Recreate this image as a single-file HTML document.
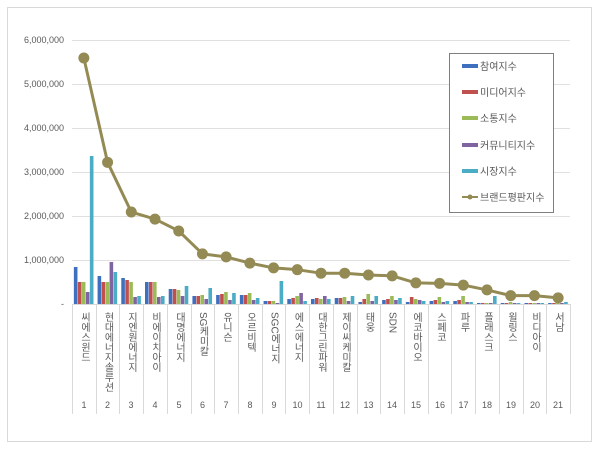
<!DOCTYPE html>
<html><head><meta charset="utf-8"><style>
html,body{margin:0;padding:0;background:#fff;}
svg{display:block;font-family:"Liberation Sans","Noto Sans CJK KR",sans-serif;}
.yl{font-size:9px;fill:#595959;text-anchor:end}
.cl{font-size:10px;fill:#595959;writing-mode:tb;glyph-orientation-vertical:0}
.nl{font-size:9px;fill:#595959;text-anchor:middle}
.lg{font-size:10px;fill:#595959}
</style></head><body>
<svg id="s" width="600" height="449" viewBox="0 0 600 449" xmlns="http://www.w3.org/2000/svg">
<rect x="0" y="0" width="600" height="449" fill="#fff"/>
<rect x="7.5" y="7.5" width="584" height="434" fill="#fff" stroke="#d9d9d9"/>
<g stroke="#e0e0e0" stroke-width="1">
<line x1="72" x2="570" y1="40.5" y2="40.5"/><line x1="72" x2="570" y1="84.5" y2="84.5"/>
<line x1="72" x2="570" y1="128.5" y2="128.5"/><line x1="72" x2="570" y1="172.5" y2="172.5"/>
<line x1="72" x2="570" y1="216.5" y2="216.5"/><line x1="72" x2="570" y1="260.5" y2="260.5"/>
</g>
<g class="yl">
<text x="64" y="43">6,000,000</text><text x="64" y="87">5,000,000</text>
<text x="64" y="131">4,000,000</text><text x="64" y="175">3,000,000</text>
<text x="64" y="219">2,000,000</text><text x="64" y="263">1,000,000</text>
<text x="64" y="307">-</text>
</g>
<g id="bars"></g>
<g id="seps" stroke="#d9d9d9"></g>
<line x1="72" x2="570" y1="304.5" y2="304.5" stroke="#d9d9d9"/>
<polyline id="ln" fill="none" stroke="#948a54" stroke-width="3" stroke-linejoin="round"/>
<g id="mk" fill="#948a54"></g>
<rect x="449.5" y="53.5" width="104" height="159" fill="#fff" stroke="#7f7f7f"/>
<rect x="462" y="64" width="16" height="4" fill="#3f6fbf"/><text class="lg" x="480" y="70">참여지수</text>
<rect x="462" y="90" width="16" height="4" fill="#c0504d"/><text class="lg" x="480" y="96">미디어지수</text>
<rect x="462" y="116" width="16" height="4" fill="#9bbb59"/><text class="lg" x="480" y="122">소통지수</text>
<rect x="462" y="143" width="16" height="4" fill="#8064a2"/><text class="lg" x="480" y="149">커뮤니티지수</text>
<rect x="462" y="169" width="16" height="4" fill="#4bacc6"/><text class="lg" x="480" y="175">시장지수</text>
<line x1="462" x2="478" y1="197" y2="197" stroke="#948a54" stroke-width="2"/><circle cx="470" cy="197" r="2.5" fill="#948a54"/><text class="lg" x="480" y="201">브랜드평판지수</text>
<g class="cl">
<text x="84" y="312">씨에스윈드</text>
<text x="107.5" y="312">현대에너지솔루션</text>
<text x="131" y="312">지엔원에너지</text>
<text x="155" y="312">비에이치아이</text>
<text x="179" y="312">대명에너지</text>
<text x="202.5" y="312">SG케미칼</text>
<text x="226" y="312">유니슨</text>
<text x="250" y="312">오르비텍</text>
<text x="274" y="312">SGC에너지</text>
<text x="297.5" y="312">에스에너지</text>
<text x="321" y="312">대한그린파워</text>
<text x="345" y="312">제이씨케미칼</text>
<text x="368.5" y="312">태웅</text>
<text x="392" y="312">SDN</text>
<text x="416" y="312">에코바이오</text>
<text x="440" y="312">스페코</text>
<text x="463.5" y="312">파루</text>
<text x="487" y="312">플래스크</text>
<text x="511" y="312">윌링스</text>
<text x="535" y="312">비디아이</text>
<text x="558" y="312">서남</text>
</g>
<g class="nl">
<text x="84" y="408">1</text><text x="107.5" y="408">2</text><text x="131" y="408">3</text><text x="155" y="408">4</text><text x="179" y="408">5</text><text x="202.5" y="408">6</text><text x="226" y="408">7</text><text x="250" y="408">8</text><text x="274" y="408">9</text><text x="297.5" y="408">10</text><text x="321" y="408">11</text><text x="345" y="408">12</text><text x="368.5" y="408">13</text><text x="392" y="408">14</text><text x="416" y="408">15</text><text x="440" y="408">16</text><text x="463.5" y="408">17</text><text x="487" y="408">18</text><text x="511" y="408">19</text><text x="535" y="408">20</text><text x="558" y="408">21</text>
</g>
</svg>
<script>
var NS="http://www.w3.org/2000/svg";
var cw=(570-72)/21,base=304;
var H=[[37,22,22,12,148],[28,22,22,42,32],[26,24,22,7,8],[22,22,22,7,8],[15,15,14,8,18],[8,8,9,5,16],[9,10,12,4,11],[9,9,11,4,6],[3,3,3,1,23],[5,6,8,11,3],[5,6,5,8,5],[6,6,7,3,8],[2,5,10,3,8],[4,5,8,4,6],[2,7,5,4,3],[3,4,7,2,3],[3,4,8,2,2],[1,1,1,1,8],[1,1,2,1,1],[1,1,1,1,1],[1,1,1,1,2]];
var C=["#3f6fbf","#c0504d","#9bbb59","#8064a2","#4bacc6"];
var L=[5.59,3.22,2.09,1.93,1.66,1.14,1.07,0.93,0.82,0.78,0.70,0.70,0.66,0.64,0.48,0.47,0.43,0.32,0.19,0.19,0.14];
var b=document.getElementById("bars"),s=document.getElementById("seps"),m=document.getElementById("mk"),pts=[];
for(var i=0;i<21;i++){var x0=72+i*cw,cx=x0+cw/2;
 for(var j=0;j<5;j++){var r=document.createElementNS(NS,"rect");r.setAttribute("x",cx-10+j*4);r.setAttribute("width",3.6);r.setAttribute("y",base-H[i][j]);r.setAttribute("height",H[i][j]);r.setAttribute("fill",C[j]);b.appendChild(r);}
 var y=base-L[i]*44;pts.push(cx+","+y);
 var c=document.createElementNS(NS,"circle");c.setAttribute("cx",cx);c.setAttribute("cy",y);c.setAttribute("r",5.5);m.appendChild(c);
}
for(var i=0;i<=21;i++){var l=document.createElementNS(NS,"line");var x=Math.round(72+i*cw)+0.5;l.setAttribute("x1",x);l.setAttribute("x2",x);l.setAttribute("y1",304);l.setAttribute("y2",414);s.appendChild(l);}
document.getElementById("ln").setAttribute("points",pts.join(" "));
</script>
</body></html>
